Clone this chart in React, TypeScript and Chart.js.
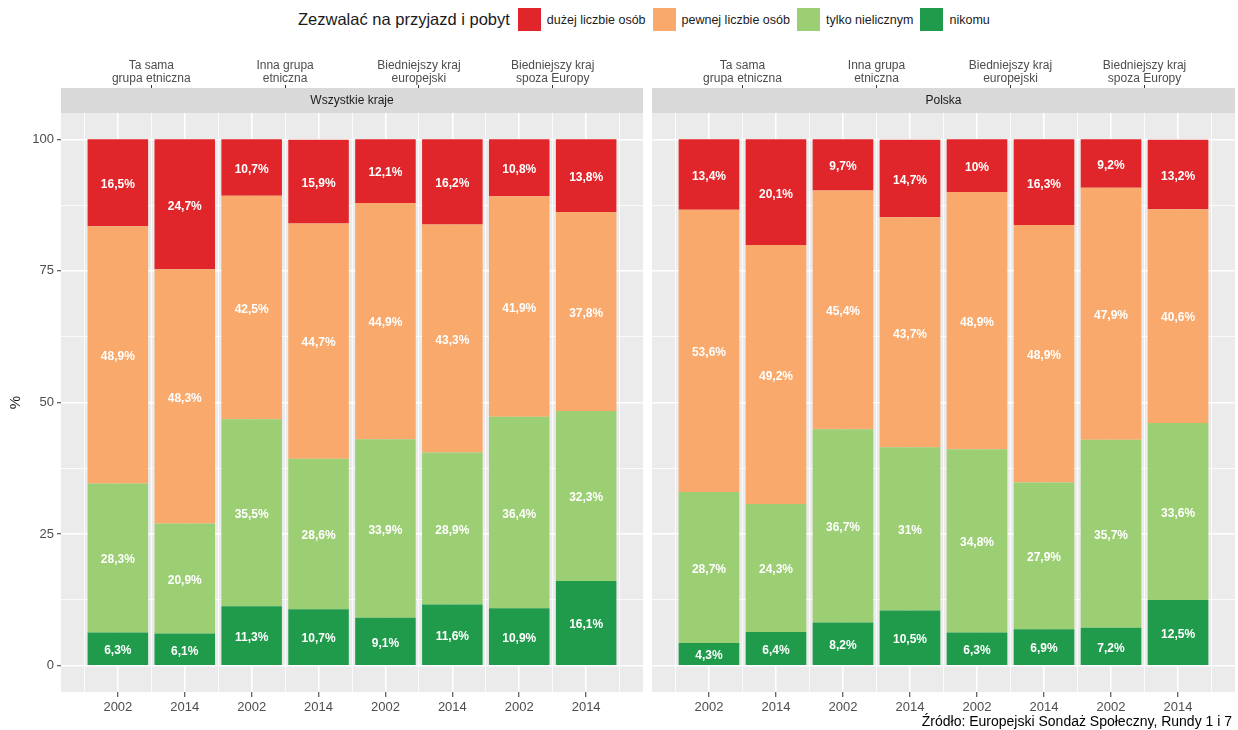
import React, { useEffect, useRef } from 'react';
import { Chart, registerables } from 'chart.js';

Chart.register(...registerables);

const FONT = '"Liberation Sans", Arial, Helvetica, sans-serif';
Chart.defaults.font.family = FONT;

// ---------- data ----------
const facets = ['Wszystkie kraje', 'Polska'];
const groups: string[][] = [
  ['Ta sama', 'grupa etniczna'],
  ['Inna grupa', 'etniczna'],
  ['Biedniejszy kraj', 'europejski'],
  ['Biedniejszy kraj', 'spoza Europy'],
];
const years = ['2002', '2014', '2002', '2014', '2002', '2014', '2002', '2014'];
const yTicks = [0, 25, 50, 75, 100];

const legendTitle = 'Zezwalać na przyjazd i pobyt';
const seriesNames = ['dużej liczbie osób', 'pewnej liczbie osób', 'tylko nielicznym', 'nikomu'];
const seriesColors = ['#E0262A', '#F8A96B', '#9CCE74', '#1F9B4B'];

// Wszystkie kraje
const allDuzej = [16.5, 24.7, 10.7, 15.9, 12.1, 16.2, 10.8, 13.8];
const allPewnej = [48.9, 48.3, 42.5, 44.7, 44.9, 43.3, 41.9, 37.8];
const allTylko = [28.3, 20.9, 35.5, 28.6, 33.9, 28.9, 36.4, 32.3];
const allNikomu = [6.3, 6.1, 11.3, 10.7, 9.1, 11.6, 10.9, 16.1];

// Polska
const plDuzej = [13.4, 20.1, 9.7, 14.7, 10, 16.3, 9.2, 13.2];
const plPewnej = [53.6, 49.2, 45.4, 43.7, 48.9, 48.9, 47.9, 40.6];
const plTylko = [28.7, 24.3, 36.7, 31, 34.8, 27.9, 35.7, 33.6];
const plNikomu = [4.3, 6.4, 8.2, 10.5, 6.3, 6.9, 7.2, 12.5];

const caption = 'Źródło: Europejski Sondaż Społeczny, Rundy 1 i 7';

// ---------- helpers ----------
const fmt = (v: number) => String(v).replace('.', ',') + '%';
const X_MIN = -0.85;
const X_MAX = years.length - 1 + 0.85;
const Y_MIN = -5;
const Y_MAX = 105;

const tickVal = (ctx: any): number | null =>
  ctx && ctx.tick && typeof ctx.tick.value === 'number' ? ctx.tick.value : null;

const panelBg = {
  id: 'panelBg',
  beforeDraw(chart: any) {
    const { ctx, chartArea } = chart;
    ctx.save();
    ctx.fillStyle = '#EBEBEB';
    ctx.fillRect(chartArea.left, chartArea.top, chartArea.right - chartArea.left, chartArea.bottom - chartArea.top);
    ctx.restore();
  },
};

const stripPlugin = {
  id: 'strip',
  afterDraw(chart: any, _args: any, opts: any) {
    const { ctx, chartArea } = chart;
    const h = 25;
    ctx.save();
    ctx.fillStyle = '#D9D9D9';
    ctx.fillRect(chartArea.left, chartArea.top - h, chartArea.right - chartArea.left, h);
    ctx.fillStyle = '#1a1a1a';
    ctx.font = `12px ${FONT}`;
    ctx.textAlign = 'center';
    ctx.textBaseline = 'middle';
    ctx.fillText(opts.text || '', (chartArea.left + chartArea.right) / 2, chartArea.top - h / 2);
    ctx.restore();
  },
};

const valueLabels = {
  id: 'valueLabels',
  afterDatasetsDraw(chart: any) {
    const { ctx } = chart;
    ctx.save();
    ctx.fillStyle = '#FFFFFF';
    ctx.font = `bold 12px ${FONT}`;
    ctx.textAlign = 'center';
    ctx.textBaseline = 'middle';
    chart.data.datasets.forEach((ds: any, di: number) => {
      const meta = chart.getDatasetMeta(di);
      meta.data.forEach((el: any, i: number) => {
        const v = ds.data[i].y;
        const p = el.getProps(['x', 'y', 'base'], true);
        ctx.fillText(fmt(v), p.x, (p.y + p.base) / 2 + 2);
      });
    });
    ctx.restore();
  },
};

type PanelProps = {
  title: string;
  series: number[][];
  showY: boolean;
  width: number;
  height: number;
  left: number;
  top: number;
};

function Panel({ title, series, showY, width, height, left, top }: PanelProps) {
  const ref = useRef<HTMLCanvasElement>(null);

  useEffect(() => {
    if (!ref.current) return;
    const order = [3, 2, 1, 0]; // stack bottom-up: nikomu ... dużej
    const datasets = order.map((k) => ({
      label: seriesNames[k],
      data: series[k].map((v, i) => ({ x: i, y: v })),
      backgroundColor: seriesColors[k],
      borderWidth: 0,
      barPercentage: 0.905,
      categoryPercentage: 1,
    }));

    const isMajorY = (v: number | null) => v !== null && yTicks.includes(v);
    const minorY: number[] = [];
    for (let i = 0; i < yTicks.length - 1; i++) minorY.push((yTicks[i] + yTicks[i + 1]) / 2);
    const allY = [...yTicks, ...minorY].sort((a, b) => a - b);
    const isGroupTick = (v: number | null) => v !== null && Number.isInteger((v - 0.5) / 2);

    const chart = new Chart(ref.current, {
      type: 'bar',
      data: { datasets } as any,
      options: {
        animation: false,
        responsive: false,
        devicePixelRatio: 1,
        layout: { padding: { left: 0, right: 3, top: 0, bottom: 0 } },
        plugins: {
          legend: { display: false },
          tooltip: { enabled: false },
          strip: { text: title },
        } as any,
        scales: {
          x: {
            type: 'linear',
            position: 'bottom',
            stacked: true,
            min: X_MIN,
            max: X_MAX,
            offset: false,
            afterBuildTicks: (s: any) => {
              s.ticks = years.map((_, i) => ({ value: i }));
            },
            afterFit: (s: any) => {
              s.height = 28;
            },
            ticks: {
              callback: (v: any) => years[v] ?? '',
              color: '#4D4D4D',
              font: { size: 13 },
              padding: 3,
              autoSkip: false,
              maxRotation: 0,
            },
            grid: {
              offset: false,
              color: '#FFFFFF',
              lineWidth: 1.5,
              tickColor: '#333333',
              tickLength: 5,
              tickWidth: 1,
            },
            border: { display: false },
          },
          x2: {
            type: 'linear',
            position: 'top',
            min: X_MIN,
            max: X_MAX,
            offset: false,
            afterBuildTicks: (s: any) => {
              const t = [];
              for (let i = 0; i <= years.length; i++) t.push({ value: i - 0.5 });
              s.ticks = t;
            },
            afterFit: (s: any) => {
              s.height = 63;
            },
            ticks: {
              callback: (v: any) => {
                const g = (v - 0.5) / 2;
                return Number.isInteger(g) && groups[g] ? groups[g] : '';
              },
              color: '#4D4D4D',
              font: { size: 12, lineHeight: 1.1 },
              padding: 0,
              autoSkip: false,
              maxRotation: 0,
            },
            grid: {
              offset: false,
              color: '#FFFFFF',
              lineWidth: 0.8,
              tickLength: 28,
              tickWidth: 1,
              tickColor: (ctx: any) => (isGroupTick(tickVal(ctx)) ? '#333333' : 'rgba(0,0,0,0)'),
            },
            border: { display: false },
          },
          y: {
            type: 'linear',
            stacked: true,
            min: Y_MIN,
            max: Y_MAX,
            afterBuildTicks: (s: any) => {
              s.ticks = allY.map((v) => ({ value: v }));
            },
            afterFit: (s: any) => {
              s.width = showY ? 61 : 6;
            },
            ticks: {
              display: showY,
              callback: (v: any) => (isMajorY(v) ? String(v) : ''),
              color: '#4D4D4D',
              font: { size: 13 },
              padding: 3,
              autoSkip: false,
            },
            grid: {
              color: '#FFFFFF',
              drawTicks: showY,
              lineWidth: (ctx: any) => (isMajorY(tickVal(ctx)) ? 1.5 : 0.8),
              tickColor: (ctx: any) => (isMajorY(tickVal(ctx)) ? '#333333' : 'rgba(0,0,0,0)'),
              tickLength: 4,
              tickWidth: 1,
            },
            border: { display: false },
            title: {
              display: showY,
              text: '%',
              color: '#1a1a1a',
              font: { size: 15 },
              padding: { top: 7, bottom: 0 },
            },
          },
        } as any,
      },
      plugins: [panelBg, stripPlugin, valueLabels],
    });
    return () => chart.destroy();
  }, [title, series, showY]);

  return (
    <canvas
      ref={ref}
      width={width}
      height={height}
      style={{ position: 'absolute', left, top, width, height }}
    />
  );
}

const allSeries = [allDuzej, allPewnej, allTylko, allNikomu];
const plSeries = [plDuzej, plPewnej, plTylko, plNikomu];

export default function App() {
  return (
    <div
      style={{
        position: 'absolute',
        left: 0,
        top: 0,
        width: 1238,
        height: 730,
        background: '#FFFFFF',
        fontFamily: FONT,
        color: '#1a1a1a',
        overflow: 'hidden',
      }}
    >
      <div
        style={{
          position: 'absolute',
          left: 298,
          top: 8,
          height: 23,
          display: 'flex',
          alignItems: 'center',
          whiteSpace: 'nowrap',
        }}
      >
        <span style={{ fontSize: 16.5, marginRight: 8 }}>{legendTitle}</span>
        {seriesNames.map((n, i) => (
          <React.Fragment key={n}>
            <span style={{ display: 'inline-block', width: 23, height: 23, background: seriesColors[i], marginRight: 6 }} />
            <span style={{ fontSize: 12.5, marginRight: 7 }}>{n}</span>
          </React.Fragment>
        ))}
      </div>
      <Panel title={facets[0]} series={allSeries} showY={true} width={646} height={670} left={0} top={50} />
      <Panel title={facets[1]} series={plSeries} showY={false} width={592} height={670} left={646} top={50} />
      <div
        style={{
          position: 'absolute',
          right: 6,
          top: 712,
          fontSize: 14,
          lineHeight: '18px',
          color: '#000000',
          whiteSpace: 'nowrap',
        }}
      >
        {caption}
      </div>
    </div>
  );
}
